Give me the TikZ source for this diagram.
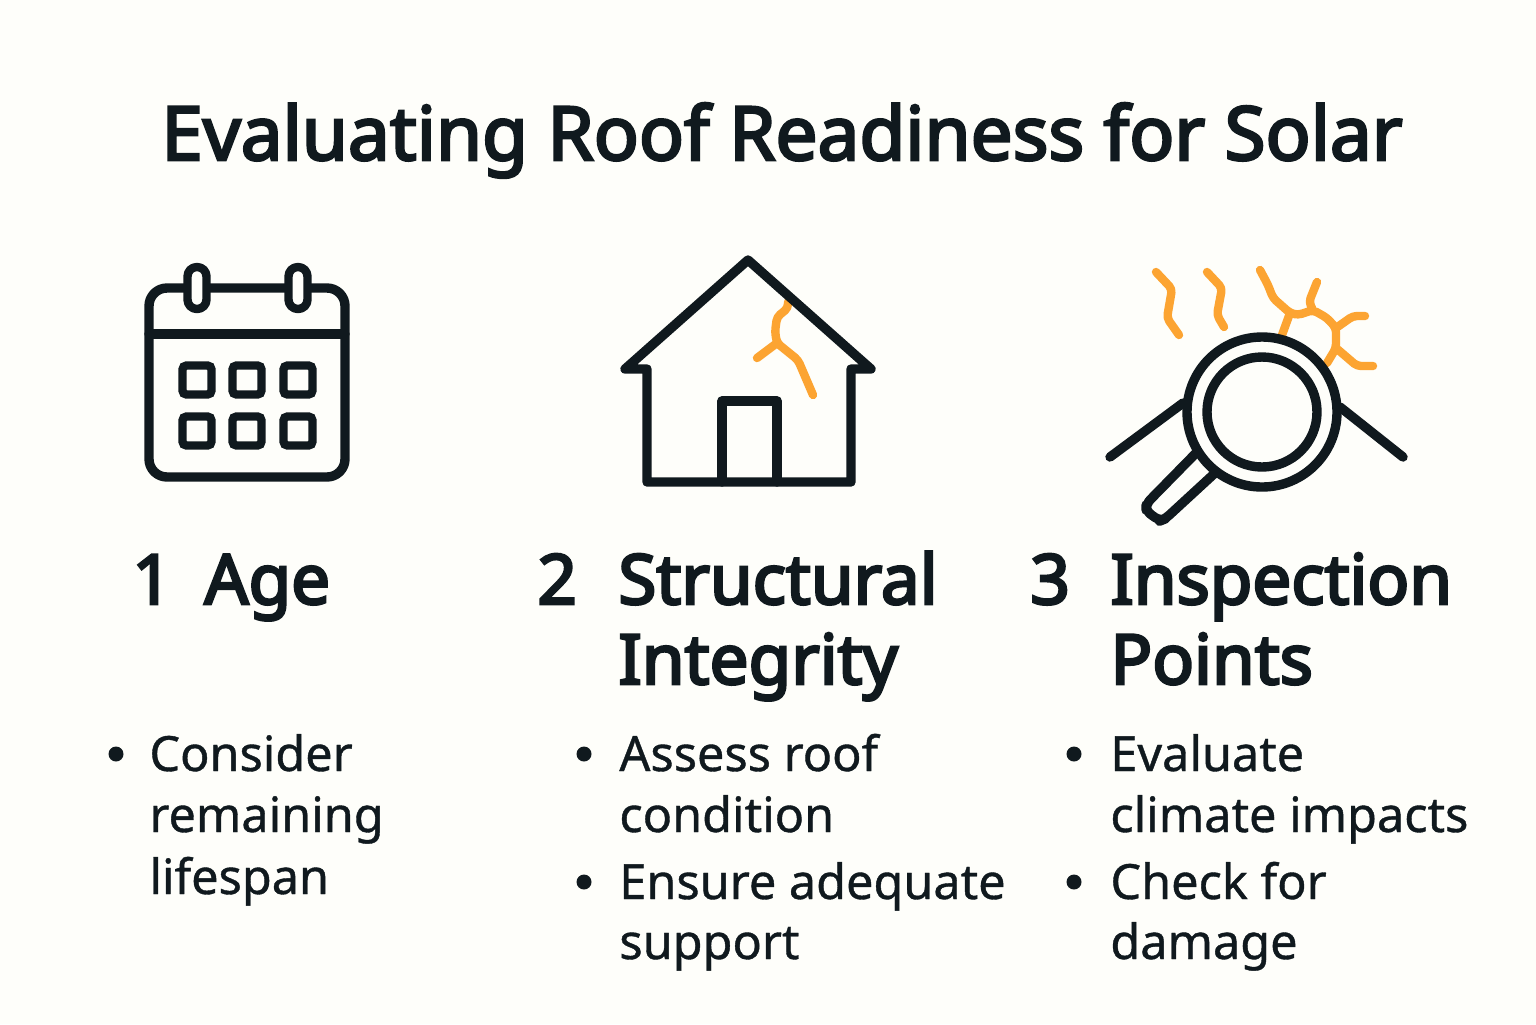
\documentclass[tikz,border=0pt]{standalone}
\usepackage{fontspec}
\setmainfont[FakeBold=0.8]{Noto Sans}
\newfontfamily\medfont[FakeBold=3.4]{Noto Sans}
\newfontfamily\headfont[FakeBold=3.8]{Noto Sans}
\usepackage{xcolor}
\definecolor{pagebg}{HTML}{FEFEFA}
\definecolor{inkdark}{HTML}{10191E}
\definecolor{crackorange}{HTML}{FCA432}
\tikzset{
  iconline/.style={draw=inkdark,line width=4.7pt,line join=round,line cap=round},
  crackline/.style={draw=crackorange,line width=4.2pt,line join=round,line cap=round,rounded corners=2pt},
  daybox/.style={draw=inkdark,line width=4.2pt,rounded corners=2pt,minimum size=14.5pt,inner sep=0pt},
  titletext/.style={anchor=base,inner sep=0pt,text=inkdark,font=\medfont\fontsize{37.3}{44}\selectfont},
  headtext/.style={anchor=base west,inner sep=0pt,text=inkdark,font=\headfont\fontsize{34.6}{40}\selectfont},
  bodytext/.style={anchor=base west,inner sep=0pt,text=inkdark,font=\fontsize{24.3}{31}\selectfont},
  bulletdot/.style={circle,fill=inkdark,minimum size=7.5pt,inner sep=0pt},
}
\begin{document}
\begin{tikzpicture}[x=0.5pt,y=-0.5pt]
  \useasboundingbox (0,0) rectangle (1536,1024);
  \fill[pagebg] (0,0) rectangle (1536,1024);

  \node[titletext] (title) at (782,160) {Evaluating Roof Readiness for Solar};

  % calendar
  \draw[iconline,rounded corners=9pt] (149,288) rectangle (345,477);
  \draw[iconline] (149,334) -- (345,334);
  \foreach \ringx in {197,298}
    \draw[iconline,line width=4.2pt,fill=pagebg,rounded corners=4.7pt] (\ringx-9.5,267) rectangle (\ringx+9.5,309);
  \foreach \dayx in {197,247,298}
    \foreach \dayy in {380,431}
      \node[daybox] (day-\dayx-\dayy) at (\dayx,\dayy) {};

  % house
  \draw[crackline] (788,302) -- (788,308) -- (777,317) -- (775,332) -- (777,343) -- (798,360) -- (813,395);
  \draw[crackline] (777,343) -- (757,358);
  \draw[iconline] (647,369) -- (625,369) -- (748,260) -- (871,369) -- (851,369) -- (851,482) -- (647,482) -- cycle;
  \draw[iconline] (722,482) -- (722,401) -- (777,401) -- (777,482);

  % magnifier and cracks
  \draw[crackline] (1156,272) -- (1172,289) -- (1167,318) -- (1179,335);
  \draw[crackline] (1207,272) -- (1222,288) -- (1217,315) -- (1224,327);
  \draw[crackline] (1260,270) -- (1268,285) -- (1273,298) -- (1290,313) -- (1298,315) -- (1313,310) -- (1327,318) -- (1336,328) -- (1336,348) -- (1327,363);
  \draw[crackline] (1290,313) -- (1282,335);
  \draw[crackline] (1312,308) -- (1309,302) -- (1317,282);
  \draw[crackline] (1336,328) -- (1353,316) -- (1365,316);
  \draw[crackline] (1336,348) -- (1357,366) -- (1373,366);
  \draw[iconline] (1110,457) -- (1183,403);
  \draw[iconline] (1403,457) -- (1340,407);
  \draw[iconline,rounded corners=3pt] (1197,452) -- (1146,504) -- (1146,511) -- (1160,521) -- (1165,519) -- (1215,473);
  \draw[iconline,fill=pagebg] (1262,412) circle (75);
  \draw[iconline] (1262,412) circle (55);

  % headings
  \node[headtext] (num-age) at (132,604) {1};
  \node[headtext] (head-age) at (204,604) {Age};
  \node[headtext] (num-struct) at (537,604) {2};
  \node[headtext] (head-struct) at (618,604) {Structural};
  \node[headtext] (head-struct-b) at (618,684) {Integrity};
  \node[headtext] (num-insp) at (1030,604) {3};
  \node[headtext] (head-insp) at (1110,604) {Inspection};
  \node[headtext] (head-insp-b) at (1110,684) {Points};

  % bullet lists
  \node[bulletdot] (dot-age) at (116,754) {};
  \node[bodytext] (age-a) at (149,771) {Consider};
  \node[bodytext] (age-b) at (149,832) {remaining};
  \node[bodytext] (age-c) at (149,894) {lifespan};

  \node[bulletdot] (dot-struct-a) at (584,754) {};
  \node[bodytext] (struct-a) at (619,771) {Assess roof};
  \node[bodytext] (struct-b) at (619,832) {condition};
  \node[bulletdot] (dot-struct-b) at (584,882) {};
  \node[bodytext] (struct-c) at (619,899) {Ensure adequate};
  \node[bodytext] (struct-d) at (619,959) {support};

  \node[bulletdot] (dot-insp-a) at (1074,754) {};
  \node[bodytext] (insp-a) at (1110,771) {Evaluate};
  \node[bodytext] (insp-b) at (1110,832) {climate impacts};
  \node[bulletdot] (dot-insp-b) at (1074,882) {};
  \node[bodytext] (insp-c) at (1110,899) {Check for};
  \node[bodytext] (insp-d) at (1110,959) {damage};
\end{tikzpicture}
\end{document}
